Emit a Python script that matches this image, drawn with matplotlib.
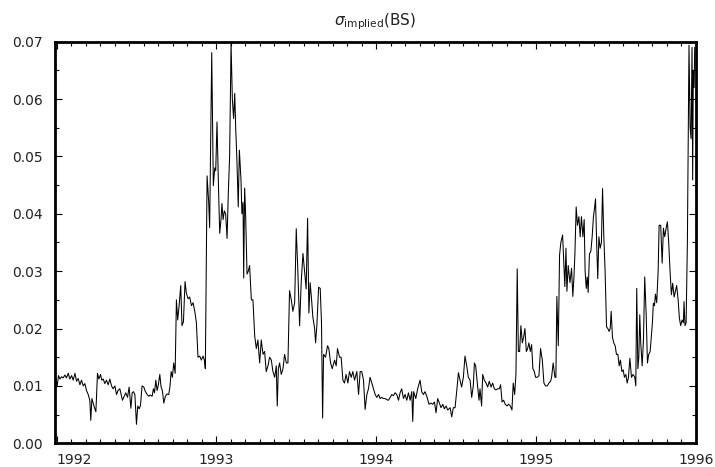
import numpy as np
import matplotlib
matplotlib.use("Agg")
import matplotlib.pyplot as plt
from matplotlib.ticker import MultipleLocator, FixedLocator, FormatStrFormatter

# implied BS volatility (decimal year, value)
t_1992 = [1991.996, 1992.004, 1992.012, 1992.021, 1992.031, 1992.042, 1992.052, 1992.062,
          1992.073, 1992.083, 1992.094, 1992.104, 1992.115, 1992.125, 1992.135, 1992.146,
          1992.156, 1992.167, 1992.177, 1992.187, 1992.198, 1992.208, 1992.214, 1992.221,
          1992.229, 1992.237, 1992.246, 1992.256, 1992.265, 1992.275, 1992.283, 1992.292,
          1992.302, 1992.312, 1992.323, 1992.333, 1992.344, 1992.354, 1992.365, 1992.375,
          1992.385, 1992.396, 1992.404, 1992.412, 1992.423, 1992.433, 1992.444, 1992.454,
          1992.465, 1992.473, 1992.481, 1992.490, 1992.500, 1992.508, 1992.517, 1992.525,
          1992.535, 1992.546, 1992.556, 1992.567, 1992.577, 1992.587, 1992.598, 1992.606,
          1992.613, 1992.621, 1992.629, 1992.637, 1992.646, 1992.654, 1992.662, 1992.671,
          1992.681, 1992.692, 1992.702, 1992.710, 1992.717, 1992.725, 1992.733, 1992.742,
          1992.750, 1992.758, 1992.767, 1992.777, 1992.785, 1992.794, 1992.804, 1992.812,
          1992.823, 1992.833, 1992.844, 1992.854, 1992.865, 1992.875, 1992.885, 1992.896,
          1992.906, 1992.917, 1992.925, 1992.931, 1992.942, 1992.952, 1992.958, 1992.971,
          1992.981, 1992.990, 1992.996]
v_1992 = [0.0113, 0.0100, 0.0118, 0.0112, 0.0116, 0.0114, 0.0119, 0.0114,
          0.0122, 0.0112, 0.0118, 0.0110, 0.0122, 0.0108, 0.0113, 0.0102,
          0.0110, 0.0100, 0.0104, 0.0092, 0.0085, 0.0075, 0.0040, 0.0078,
          0.0070, 0.0062, 0.0055, 0.0122, 0.0112, 0.0120, 0.0110, 0.0112,
          0.0104, 0.0110, 0.0102, 0.0112, 0.0100, 0.0095, 0.0100, 0.0085,
          0.0092, 0.0095, 0.0085, 0.0075, 0.0082, 0.0088, 0.0080, 0.0098,
          0.0061, 0.0088, 0.0090, 0.0085, 0.0033, 0.0065, 0.0060, 0.0066,
          0.0100, 0.0098, 0.0090, 0.0085, 0.0082, 0.0084, 0.0082, 0.0095,
          0.0088, 0.0110, 0.0092, 0.0102, 0.0120, 0.0098, 0.0092, 0.0070,
          0.0082, 0.0086, 0.0085, 0.0100, 0.0125, 0.0115, 0.0140, 0.0122,
          0.0250, 0.0215, 0.0240, 0.0275, 0.0205, 0.0212, 0.0282, 0.0262,
          0.0252, 0.0255, 0.0240, 0.0245, 0.0230, 0.0210, 0.0150, 0.0152,
          0.0145, 0.0152, 0.0145, 0.0130, 0.0466, 0.0420, 0.0376, 0.0681,
          0.0449, 0.0480, 0.0475]

t_1993 = [1993.004, 1993.013, 1993.021, 1993.029, 1993.035, 1993.042, 1993.050, 1993.058,
          1993.067, 1993.075, 1993.083, 1993.092, 1993.100, 1993.108, 1993.115, 1993.121,
          1993.129, 1993.137, 1993.144, 1993.154, 1993.160, 1993.167, 1993.171, 1993.177,
          1993.183, 1993.192, 1993.200, 1993.208, 1993.219, 1993.229, 1993.240, 1993.250,
          1993.260, 1993.271, 1993.281, 1993.292, 1993.302, 1993.312, 1993.323, 1993.333,
          1993.344, 1993.354, 1993.365, 1993.375, 1993.381, 1993.388, 1993.396, 1993.406,
          1993.417, 1993.427, 1993.438, 1993.448, 1993.458, 1993.469, 1993.479, 1993.490,
          1993.500, 1993.510, 1993.521, 1993.531, 1993.542, 1993.552, 1993.562, 1993.571,
          1993.579, 1993.587, 1993.596, 1993.604, 1993.615, 1993.621, 1993.629, 1993.640,
          1993.650, 1993.658, 1993.665, 1993.671, 1993.683, 1993.696, 1993.704, 1993.715,
          1993.725, 1993.740, 1993.750, 1993.758, 1993.771, 1993.781, 1993.792, 1993.802,
          1993.812, 1993.823, 1993.833, 1993.844, 1993.854, 1993.865, 1993.879, 1993.890,
          1993.900, 1993.910, 1993.921, 1993.931, 1993.942, 1993.952, 1993.962, 1993.973,
          1993.983, 1993.994]
v_1993 = [0.0560, 0.0450, 0.0366, 0.0390, 0.0418, 0.0390, 0.0405, 0.0400,
          0.0357, 0.0438, 0.0500, 0.0697, 0.0600, 0.0566, 0.0610, 0.0550,
          0.0490, 0.0412, 0.0511, 0.0460, 0.0400, 0.0420, 0.0288, 0.0445,
          0.0400, 0.0295, 0.0300, 0.0310, 0.0250, 0.0250, 0.0187, 0.0165,
          0.0180, 0.0140, 0.0180, 0.0155, 0.0160, 0.0125, 0.0135, 0.0150,
          0.0145, 0.0125, 0.0115, 0.0135, 0.0065, 0.0130, 0.0140, 0.0120,
          0.0130, 0.0155, 0.0140, 0.0140, 0.0266, 0.0250, 0.0230, 0.0245,
          0.0374, 0.0300, 0.0205, 0.0280, 0.0331, 0.0300, 0.0269, 0.0392,
          0.0227, 0.0280, 0.0250, 0.0220, 0.0200, 0.0175, 0.0205, 0.0272,
          0.0270, 0.0210, 0.0044, 0.0155, 0.0150, 0.0170, 0.0165, 0.0140,
          0.0130, 0.0145, 0.0135, 0.0165, 0.0150, 0.0150, 0.0110, 0.0105,
          0.0120, 0.0105, 0.0125, 0.0115, 0.0125, 0.0110, 0.0125, 0.0085,
          0.0125, 0.0125, 0.0110, 0.0059, 0.0085, 0.0095, 0.0115, 0.0105,
          0.0095, 0.0085]

t_1994 = [1994.004, 1994.015, 1994.025, 1994.035, 1994.046, 1994.056, 1994.067, 1994.077,
          1994.088, 1994.098, 1994.108, 1994.119, 1994.129, 1994.140, 1994.150, 1994.160,
          1994.171, 1994.181, 1994.192, 1994.202, 1994.213, 1994.223, 1994.229, 1994.235,
          1994.248, 1994.260, 1994.275, 1994.285, 1994.296, 1994.306, 1994.317, 1994.331,
          1994.344, 1994.354, 1994.365, 1994.375, 1994.385, 1994.396, 1994.406, 1994.417,
          1994.427, 1994.438, 1994.448, 1994.463, 1994.473, 1994.483, 1994.494, 1994.504,
          1994.515, 1994.525, 1994.535, 1994.546, 1994.556, 1994.567, 1994.577, 1994.588,
          1994.598, 1994.608, 1994.615, 1994.623, 1994.633, 1994.644, 1994.650, 1994.660,
          1994.667, 1994.677, 1994.688, 1994.698, 1994.708, 1994.719, 1994.729, 1994.740,
          1994.750, 1994.760, 1994.771, 1994.779, 1994.788, 1994.798, 1994.808, 1994.819,
          1994.829, 1994.840, 1994.850, 1994.858, 1994.867, 1994.875, 1994.883, 1994.890,
          1994.898, 1994.906, 1994.915, 1994.923, 1994.931, 1994.940, 1994.948, 1994.956,
          1994.965, 1994.973, 1994.981, 1994.990, 1994.998]
v_1994 = [0.0080, 0.0085, 0.0078, 0.0080, 0.0078, 0.0078, 0.0076, 0.0075,
          0.0080, 0.0085, 0.0083, 0.0088, 0.0085, 0.0075, 0.0088, 0.0095,
          0.0078, 0.0085, 0.0075, 0.0088, 0.0075, 0.0090, 0.0038, 0.0090,
          0.0078, 0.0095, 0.0110, 0.0090, 0.0085, 0.0090, 0.0082, 0.0068,
          0.0070, 0.0068, 0.0072, 0.0053, 0.0078, 0.0070, 0.0062, 0.0068,
          0.0060, 0.0065, 0.0058, 0.0062, 0.0046, 0.0062, 0.0062, 0.0090,
          0.0123, 0.0110, 0.0098, 0.0115, 0.0152, 0.0135, 0.0115, 0.0110,
          0.0080, 0.0100, 0.0140, 0.0135, 0.0105, 0.0075, 0.0095, 0.0065,
          0.0120, 0.0110, 0.0105, 0.0098, 0.0108, 0.0098, 0.0105, 0.0095,
          0.0093, 0.0095, 0.0095, 0.0102, 0.0072, 0.0075, 0.0068, 0.0065,
          0.0068, 0.0065, 0.0058, 0.0105, 0.0085, 0.0120, 0.0304, 0.0160,
          0.0160, 0.0205, 0.0175, 0.0185, 0.0200, 0.0160, 0.0165, 0.0175,
          0.0160, 0.0172, 0.0130, 0.0125, 0.0115]

t_1995 = [1995.008, 1995.019, 1995.029, 1995.040, 1995.050, 1995.060, 1995.071, 1995.081,
          1995.092, 1995.098, 1995.108, 1995.119, 1995.125, 1995.131, 1995.140, 1995.148,
          1995.156, 1995.167, 1995.173, 1995.181, 1995.188, 1995.194, 1995.202, 1995.213,
          1995.223, 1995.231, 1995.238, 1995.244, 1995.252, 1995.260, 1995.269, 1995.277,
          1995.285, 1995.294, 1995.302, 1995.308, 1995.315, 1995.321, 1995.327, 1995.335,
          1995.344, 1995.352, 1995.360, 1995.367, 1995.373, 1995.381, 1995.387, 1995.394,
          1995.402, 1995.410, 1995.417, 1995.425, 1995.433, 1995.442, 1995.450, 1995.458,
          1995.465, 1995.471, 1995.479, 1995.487, 1995.496, 1995.504, 1995.513, 1995.521,
          1995.529, 1995.538, 1995.546, 1995.554, 1995.563, 1995.571, 1995.579, 1995.588,
          1995.598, 1995.608, 1995.619, 1995.625, 1995.631, 1995.638, 1995.644, 1995.650,
          1995.656, 1995.665, 1995.673, 1995.681, 1995.690, 1995.698, 1995.706, 1995.715,
          1995.723, 1995.729, 1995.735, 1995.742, 1995.748, 1995.756, 1995.765, 1995.771,
          1995.781, 1995.790, 1995.798, 1995.806, 1995.815, 1995.823, 1995.831, 1995.840,
          1995.848, 1995.856, 1995.865, 1995.873, 1995.881, 1995.890, 1995.898, 1995.906,
          1995.915, 1995.923, 1995.927, 1995.933, 1995.940, 1995.948, 1995.958, 1995.965,
          1995.971, 1995.977, 1995.981, 1995.985, 1995.990, 1995.994]
v_1995 = [0.0115, 0.0118, 0.0165, 0.0145, 0.0105, 0.0100, 0.0100, 0.0105,
          0.0108, 0.0115, 0.0140, 0.0115, 0.0115, 0.0256, 0.0170, 0.0328,
          0.0350, 0.0363, 0.0326, 0.0273, 0.0340, 0.0265, 0.0310, 0.0280,
          0.0305, 0.0256, 0.0290, 0.0330, 0.0412, 0.0380, 0.0395, 0.0360,
          0.0395, 0.0360, 0.0390, 0.0300, 0.0270, 0.0290, 0.0263, 0.0330,
          0.0335, 0.0360, 0.0395, 0.0410, 0.0426, 0.0340, 0.0287, 0.0360,
          0.0340, 0.0350, 0.0444, 0.0360, 0.0300, 0.0203, 0.0200, 0.0195,
          0.0200, 0.0230, 0.0185, 0.0175, 0.0170, 0.0155, 0.0155, 0.0135,
          0.0145, 0.0125, 0.0128, 0.0115, 0.0120, 0.0105, 0.0115, 0.0148,
          0.0115, 0.0120, 0.0115, 0.0100, 0.0270, 0.0130, 0.0150, 0.0224,
          0.0175, 0.0135, 0.0180, 0.0290, 0.0225, 0.0140, 0.0155, 0.0160,
          0.0190, 0.0210, 0.0244, 0.0240, 0.0260, 0.0245, 0.0300, 0.0380,
          0.0380, 0.0314, 0.0375, 0.0360, 0.0375, 0.0386, 0.0350, 0.0297,
          0.0259, 0.0279, 0.0255, 0.0265, 0.0275, 0.0250, 0.0218, 0.0205,
          0.0215, 0.0210, 0.0247, 0.0205, 0.0210, 0.0350, 0.0694, 0.0550,
          0.0531, 0.0690, 0.0459, 0.0650, 0.0620, 0.0690]

year_ticks = [1992, 1993, 1994, 1995, 1996]

t = np.concatenate([t_1992, t_1993, t_1994, t_1995])
v = np.concatenate([v_1992, v_1993, v_1994, v_1995])

fig = plt.figure(figsize=(7.15, 4.67), dpi=100)
ax = fig.add_axes([0.0769, 0.0508, 0.8961, 0.8599])

ax.plot(t, v, color='black', lw=0.75)

ax.set_xlim(1991.99, 1996.0)
ax.set_ylim(0.0, 0.07)

ax.xaxis.set_major_locator(FixedLocator(year_ticks))
ax.xaxis.set_minor_locator(MultipleLocator(1 / 11))
ax.yaxis.set_major_locator(MultipleLocator(0.01))
ax.yaxis.set_minor_locator(MultipleLocator(0.005))
ax.yaxis.set_major_formatter(FormatStrFormatter('%.2f'))
ax.set_xticklabels([str(y) for y in year_ticks])
ax.get_xticklabels()[0].set_horizontalalignment('left')

ax.tick_params(which='both', direction='in', top=True, right=True,
               width=0.8, colors='black', labelsize=10, labelcolor='#222222')
ax.tick_params(axis='y', which='major', length=5, pad=9)
ax.tick_params(axis='x', which='major', length=5, pad=7)
ax.tick_params(which='minor', length=3)
for s in ax.spines.values():
    s.set_linewidth(2.0)

ax.set_title(r'$\sigma_{\mathrm{implied}}$(BS)', fontsize=11, pad=12, color='#222222')

fig.savefig('out.png', dpi=100)
